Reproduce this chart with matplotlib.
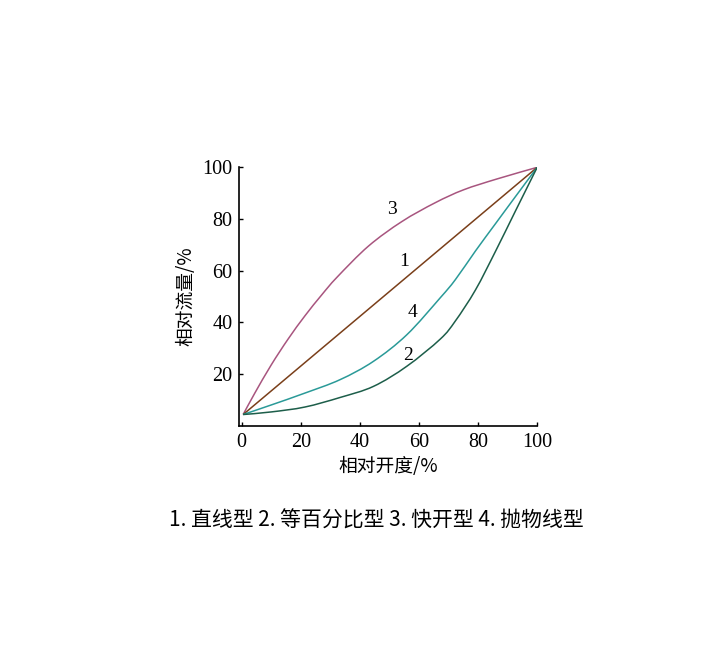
import numpy as np
import matplotlib
matplotlib.use('Agg')
import matplotlib.pyplot as plt
from matplotlib.path import Path
from matplotlib.patches import PathPatch

plt.rcParams['font.family'] = ['Liberation Serif', 'Noto Sans CJK SC', 'DejaVu Sans']

# 曲线数据（相对开度 %, 相对流量 %）
x1 = [0.5, 100]
y1 = [4.3, 100]

x2 = [0.5, 10, 21.4, 33.3, 44.6, 55.9, 67.2, 72.3, 79.1, 85.9, 92.6, 100]
y2 = [4.3, 5.3, 7.2, 10.9, 15.2, 23, 33.5, 40.5, 52.5, 67.5, 83, 100]

x3 = [0.5, 4.4, 10, 15.7, 21.4, 27, 32.3, 42.9, 54.2, 65.5, 75.1, 86.4, 100]
y3 = [4.3, 12.5, 23.5, 33.5, 42.5, 50.5, 57.5, 69.5, 79, 86.3, 91.3, 95.5, 100]

x4 = [0.5, 10, 21.4, 33.3, 44.6, 55.9, 67.2, 72.3, 79.1, 85.9, 92.6, 100]
y4 = [4.3, 8.0, 12.6, 17.8, 24.9, 35.2, 49.5, 56.5, 67.6, 78.2, 88.6, 100]

xticks = [0, 20, 40, 60, 80, 100]
yticks = [20, 40, 60, 80, 100]


def smooth_path(xs, ys):
    # 平滑曲线：按 Catmull-Rom 方式用三次贝塞尔段连接各点
    p = np.column_stack([xs, ys]).astype(float)
    n = len(p)
    verts = [p[0]]
    codes = [Path.MOVETO]
    for i in range(n - 1):
        p0 = p[i - 1] if i > 0 else p[i]
        p3 = p[i + 2] if i + 2 < n else p[i + 1]
        c1 = p[i] + (p[i + 1] - p0) / 6
        c2 = p[i + 1] - (p3 - p[i]) / 6
        verts += [c1, c2, p[i + 1]]
        codes += [Path.CURVE4] * 3
    return Path(verts, codes)


fig = plt.figure(figsize=(7.23, 6.64), dpi=100)
ax = fig.add_axes([0.331, 0.359, 0.412, 0.389])

for xs, ys, c in [(x3, y3, '#a8557f'), (x1, y1, '#7a3f1a'),
                  (x4, y4, '#2a9a98'), (x2, y2, '#1d5e4a')]:
    ax.add_patch(PathPatch(smooth_path(xs, ys), fill=False, edgecolor=c, lw=1.1))

cjk = ['Noto Sans CJK SC', 'DejaVu Sans']
ax.text(51, 83.7, '3', fontsize=14, ha='center', va='center')
ax.text(55, 63.6, '1', fontsize=14, ha='center', va='center')
ax.text(57.7, 43.8, '4', fontsize=14, ha='center', va='center')
ax.text(56.4, 27.1, '2', fontsize=14, ha='center', va='center')

ax.set_xlim(-0.8, 100)
ax.set_ylim(0, 100)
ax.set_xticks(xticks)
ax.set_yticks(yticks)
ax.tick_params(direction='in', length=3, width=1, labelsize=14.5, pad=5)
for s in ['top', 'right']:
    ax.spines[s].set_visible(False)
for s in ['left', 'bottom']:
    ax.spines[s].set_linewidth(1.2)

ax.set_xlabel('相对开度/%', family=cjk, fontsize=13.5, labelpad=3)
ax.set_ylabel('相对流量/%', family=cjk, fontsize=13.5, labelpad=4)

fig.text(0.521, 0.216, '1. 直线型 2. 等百分比型 3. 快开型 4. 抛物线型',
         family=cjk, fontsize=15, ha='center', va='center')

plt.savefig('out.png', dpi=100)
